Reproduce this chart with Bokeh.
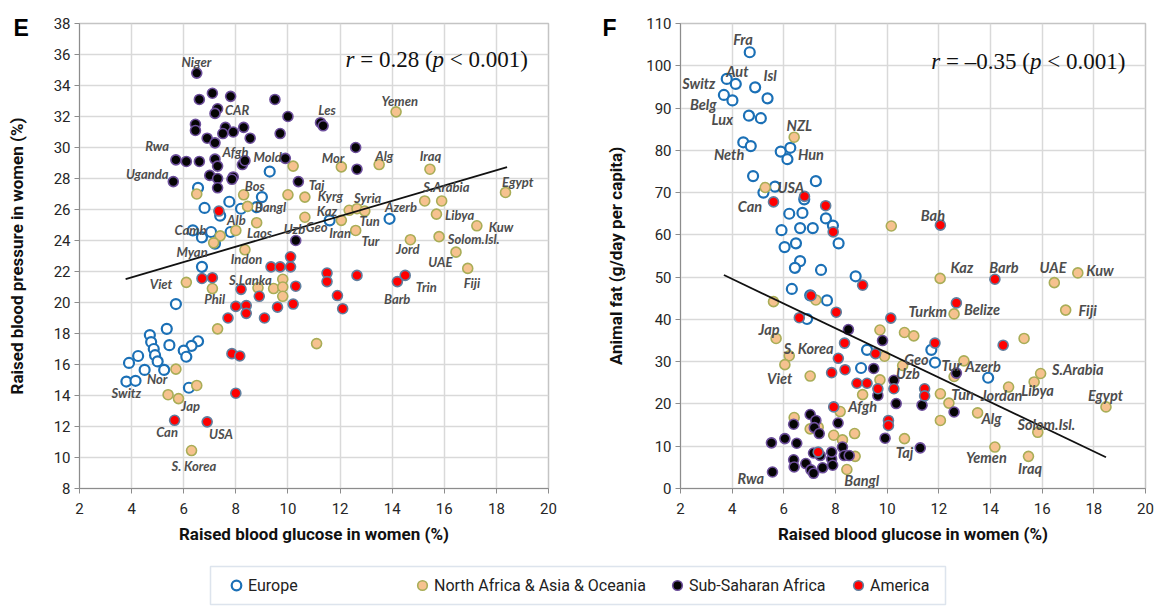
from bokeh.plotting import figure
from bokeh.layouts import column, row
from bokeh.models import (Range1d, Label, Legend, LegendItem, BoxAnnotation,
                          FixedTicker, Title)
from bokeh.core.properties import value
from bokeh.embed import file_html
from bokeh.resources import INLINE

# ---------------- data ----------------
x_ticks = [2, 4, 6, 8, 10, 12, 14, 16, 18, 20]
e_y_ticks = [8, 10, 12, 14, 16, 18, 20, 22, 24, 26, 28, 30, 32, 34, 36, 38]
f_y_ticks = [0, 10, 20, 30, 40, 50, 60, 70, 80, 90, 100, 110]

groups = ["Europe", "North Africa & Asia & Oceania", "Sub-Saharan Africa", "America"]

# Panel E: glucose vs blood pressure
e_eu_x = [9.3, 6.55, 6.8, 7.75, 8.2, 9.0, 8.8, 7.4, 6.35, 6.7, 7.05, 7.8, 7.2, 6.7, 5.7, 4.7, 5.35, 4.75,
          4.85, 4.9, 5.45, 6.55, 6.3, 6.0, 6.1, 5.0, 5.25, 4.25, 3.9, 4.5, 3.8, 4.15, 6.2, 11.6, 13.9]
e_eu_y = [28.45, 27.4, 26.1, 26.5, 26.05, 26.8, 26.15, 25.6, 24.65, 24.2, 24.55, 24.55, 23.8, 22.3, 19.9,
          17.9, 18.3, 17.45, 17.0, 16.6, 17.25, 17.5, 17.2, 16.9, 16.5, 16.2, 15.65, 16.55, 16.1, 15.65,
          14.9, 14.95, 14.5, 25.3, 25.4]
e_na_x = [6.5, 8.3, 8.45, 10.0, 10.2, 8.8, 8.0, 7.4, 7.15, 8.35, 12.05, 10.65, 10.65, 12.05, 12.6, 12.35,
          12.65, 12.95, 14.15, 13.5, 15.45, 18.35, 15.25, 15.9, 15.7, 17.25, 15.8, 14.7, 16.45, 16.9, 11.1,
          6.1, 7.1, 7.3, 5.7, 5.4, 5.8, 6.5, 6.3, 8.85, 9.45, 9.8, 9.8, 9.8]
e_na_y = [27.0, 26.95, 26.2, 26.95, 28.8, 25.15, 24.65, 24.3, 23.85, 23.4, 28.75, 26.8, 25.5, 25.3, 24.65,
          25.95, 26.05, 25.9, 32.3, 28.9, 28.6, 27.1, 26.55, 26.55, 25.7, 24.95, 24.25, 24.05, 23.25, 22.2,
          17.35, 21.3, 20.9, 18.3, 15.7, 14.05, 13.8, 14.65, 10.45, 20.95, 20.9, 21.5, 21.0, 20.4]
e_ss_x = [6.5, 7.1, 6.6, 7.8, 9.5, 7.3, 7.2, 10.0, 6.45, 6.45, 11.25, 11.35, 7.6, 8.3, 7.5, 7.9, 6.9, 7.2,
          8.55, 9.7, 12.6, 12.65, 5.7, 6.1, 6.6, 7.2, 7.3, 8.25, 8.35, 9.9, 7.0, 7.3, 7.9, 7.85, 5.6, 7.3,
          10.4, 10.3]
e_ss_y = [34.8, 33.5, 33.1, 33.3, 33.1, 32.5, 32.2, 32.0, 31.5, 31.1, 31.6, 31.4, 31.3, 31.3, 30.9, 31.0,
          30.6, 30.3, 30.6, 30.9, 30.0, 28.6, 29.2, 29.1, 29.1, 29.25, 28.8, 28.9, 29.15, 29.3, 28.2, 28.0,
          28.1, 27.95, 27.8, 27.4, 27.8, 24.0]
e_am_x = [7.35, 10.1, 9.35, 9.7, 10.1, 11.5, 11.5, 12.65, 6.7, 7.1, 8.2, 8.9, 10.3, 8.0, 8.4, 8.4, 7.7, 9.1,
          9.6, 10.2, 11.9, 12.1, 7.85, 8.15, 8.0, 5.65, 6.9, 14.2, 14.5]
e_am_y = [25.9, 22.95, 22.3, 22.3, 22.3, 21.9, 21.35, 21.75, 21.55, 21.6, 20.85, 20.4, 21.05, 19.75, 19.8,
          19.3, 19.0, 19.0, 19.7, 19.9, 20.45, 19.6, 16.7, 16.55, 14.15, 12.4, 12.3, 21.35, 21.75]
e_fit_x = [3.77, 18.41]
e_fit_y = [21.51, 28.74]
e_lab = ["Niger", "CAR", "Rwa", "Uganda", "Afgh", "Mold", "Bos", "Bangl", "Alb", "Camb", "Laos", "Uzb",
         "Geo", "Kaz", "Kyrg", "Taj", "Mor", "Les", "Iran", "Myan", "Indon", "S.Lanka", "Phil", "Viet",
         "Nor", "Switz", "Jap", "Can", "USA", "S. Korea", "Yemen", "Alg", "Iraq", "Syria", "S.Arabia",
         "Egypt", "Azerb", "Tun", "Libya", "Kuw", "Tur", "Solom.Isl.", "Jord", "UAE", "Fiji", "Trin", "Barb"]
e_lab_x = [6.49, 8.05, 4.98, 4.6, 7.99, 9.22, 8.73, 9.33, 8.02, 6.26, 8.91, 10.25, 11.1, 11.5, 11.63, 11.1,
           11.73, 11.5, 12.0, 6.32, 8.41, 8.56, 7.19, 5.13, 4.98, 3.8, 6.26, 5.36, 7.43, 6.39, 14.29, 13.7,
           15.47, 13.06, 16.08, 18.82, 14.34, 13.14, 16.59, 18.18, 13.17, 17.13, 14.6, 15.85, 17.06, 15.31,
           14.19]
e_lab_y = [35.5, 32.4, 30.1, 28.3, 29.73, 29.37, 27.5, 26.13, 25.33, 24.7, 24.48, 24.76, 24.9, 25.88, 26.88,
           27.57, 29.35, 32.45, 24.48, 23.27, 22.79, 21.43, 20.24, 21.2, 15.07, 14.16, 13.31, 11.62, 11.51,
           9.46, 33.02, 29.42, 29.42, 26.73, 27.45, 27.79, 26.18, 25.29, 25.67, 24.86, 23.97, 24.12, 23.42,
           22.6, 21.26, 20.98, 20.24]

# Panel F: glucose vs animal fat
f_eu_x = [4.68, 3.79, 4.14, 4.89, 5.37, 3.68, 4.01, 4.65, 5.11, 4.43, 4.72, 5.88, 6.25, 6.14, 4.81, 7.24,
          5.21, 5.66, 6.79, 6.21, 6.72, 7.63, 7.9, 5.91, 6.63, 7.12, 6.47, 6.03, 8.12, 6.63, 6.43, 7.44,
          8.78, 6.31, 7.02, 7.67, 6.9, 9.22, 11.71, 11.85, 8.99, 13.91]
f_eu_y = [103.2, 96.9, 95.7, 94.9, 92.3, 93.1, 91.8, 88.2, 87.6, 81.9, 81.0, 79.7, 80.6, 77.9, 73.9, 72.7,
          70.0, 71.4, 68.4, 65.0, 65.2, 63.9, 62.2, 61.1, 61.6, 61.6, 58.0, 57.1, 58.0, 53.8, 52.2, 51.7,
          50.2, 47.2, 45.7, 44.5, 40.1, 32.8, 32.8, 29.8, 28.5, 26.2]
f_na_x = [6.4, 5.28, 10.16, 12.05, 5.6, 7.24, 12.59, 5.7, 6.21, 6.04, 7.02, 9.72, 10.67, 11.03, 9.9, 15.3,
          12.97, 12.59, 10.6, 9.72, 9.05, 8.18, 6.4, 7.02, 7.33, 7.93, 8.27, 8.74, 8.76, 8.44, 12.06, 12.39,
          12.06, 13.5, 10.67, 14.7, 15.69, 15.94, 15.83, 14.17, 15.47, 18.47, 16.47, 17.38, 16.91]
f_na_y = [83.1, 71.2, 62.1, 49.7, 44.2, 44.6, 41.3, 35.5, 31.4, 29.3, 26.6, 37.5, 36.9, 36.1, 31.3, 35.5,
          30.2, 26.5, 29.1, 25.7, 22.2, 18.2, 16.8, 14.1, 14.5, 12.6, 11.5, 13.0, 7.6, 4.5, 22.4, 20.2, 16.1,
          17.9, 11.8, 24.0, 25.2, 27.2, 13.3, 9.8, 7.6, 19.3, 48.7, 51.0, 42.2]
f_ss_x = [5.52, 6.04, 6.5, 6.38, 7.02, 7.24, 7.18, 7.37, 8.1, 5.56, 6.38, 6.4, 6.85, 7.05, 7.15, 7.5, 7.85,
          7.85, 7.89, 7.15, 7.41, 8.27, 8.34, 8.53, 8.5, 9.48, 9.82, 10.26, 9.64, 10.35, 11.35, 12.68, 12.59,
          9.92, 11.28]
f_ss_y = [10.8, 11.8, 10.7, 15.2, 17.5, 16.1, 14.4, 13.0, 15.5, 3.9, 6.8, 5.1, 5.9, 4.4, 3.6, 4.9, 7.0, 8.6,
          5.5, 8.4, 7.8, 9.8, 7.8, 7.8, 37.6, 28.4, 35.0, 25.6, 22.0, 20.1, 19.7, 27.3, 18.1, 11.9, 9.6]
f_am_x = [5.6, 6.8, 7.62, 7.91, 12.06, 9.05, 7.05, 6.6, 8.03, 10.14, 12.68, 11.85, 8.35, 9.55, 8.11, 8.37,
          7.85, 8.83, 9.22, 9.64, 10.26, 11.45, 11.45, 10.05, 10.05, 7.93, 7.33, 14.17, 14.49]
f_am_y = [67.8, 69.1, 66.9, 60.7, 62.3, 48.1, 45.6, 40.4, 41.7, 40.3, 43.9, 34.4, 34.4, 31.9, 30.8, 28.1,
          27.4, 24.9, 24.9, 23.6, 23.6, 23.6, 21.9, 16.1, 14.9, 19.3, 8.6, 49.5, 33.9]
f_fit_x = [3.68, 18.47]
f_fit_y = [50.5, 7.4]
f_lab = ["Fra", "Aut", "Isl", "Switz", "Belg", "Lux", "NZL", "Neth", "Hun", "USA", "Can", "Bah", "Kaz",
         "Barb", "UAE", "Kuw", "Belize", "Turkm", "Fiji", "S.Arabia", "Libya", "Egypt", "Azerb", "Tur",
         "Geo", "Uzb", "Tun", "Jordan", "Alg", "Solom.Isl.", "Yemen", "Iraq", "Taj", "Bangl", "Afgh", "Rwa",
         "Viet", "S. Korea", "Jap"]
f_lab_x = [4.42, 4.2, 5.47, 2.71, 2.88, 3.62, 6.6, 3.88, 7.05, 6.27, 4.69, 11.77, 12.89, 14.52, 16.42, 18.24,
           13.67, 11.57, 17.76, 17.38, 15.82, 18.45, 13.71, 12.49, 11.13, 10.8, 12.92, 14.43, 14.04, 16.16,
           13.84, 15.53, 10.67, 9.02, 9.05, 4.72, 5.84, 6.96, 5.43]
f_lab_y = [106.2, 98.7, 97.6, 95.7, 90.8, 87.4, 85.8, 79.1, 79.1, 71.2, 66.7, 64.5, 52.3, 52.3, 52.3, 51.5,
           42.3, 41.8, 42.0, 28.1, 23.2, 21.9, 28.8, 29.2, 30.6, 27.2, 22.3, 21.9, 16.5, 15.2, 7.4, 4.7, 8.6,
           1.9, 19.3, 2.3, 26.1, 33.1, 37.7]

# ---------------- styling ----------------
TICK_FONT = "Roboto"
LAB_FONT = "Lato"
STY = [
    dict(fill_color="white", line_color="#1b70b6", line_width=2.2),
    dict(fill_color="#f6c28f", line_color="#a9ad57", line_width=1.6),
    dict(fill_color="#050505", line_color="#6d4f9c", line_width=1.6),
    dict(fill_color="#ff0000", line_color="#5f7f9f", line_width=1.6),
]


def make_panel(width, bl, br, bt, bb, yr, yticks, ylabel, ystand, letter, loff):
    p = figure(width=width, height=552, x_range=Range1d(2, 20), y_range=Range1d(*yr),
               output_backend="svg", toolbar_location=None,
               min_border_left=bl, min_border_right=br, min_border_top=bt, min_border_bottom=bb)
    p.title = Title(text=letter, align="left", offset=loff, standoff=-35, text_line_height=2.2,
                    text_font="Liberation Sans", text_font_style="bold", text_font_size="23px",
                    text_color="#000000")
    p.xaxis.ticker = FixedTicker(ticks=x_ticks)
    p.yaxis.ticker = FixedTicker(ticks=yticks)
    p.axis.minor_tick_line_color = None
    p.axis.major_tick_in = 0
    p.axis.major_tick_out = 5
    p.axis.axis_line_color = "#8c8c8c"
    p.axis.major_tick_line_color = "#8c8c8c"
    p.axis.major_label_text_font = TICK_FONT
    p.axis.major_label_text_font_size = "15px"
    p.axis.major_label_text_color = "#262626"
    p.yaxis.major_label_standoff = 4
    p.xaxis.major_label_standoff = 9
    p.axis.axis_label_text_font = TICK_FONT
    p.axis.axis_label_text_font_style = "bold"
    p.axis.axis_label_text_font_size = "17px"
    p.axis.axis_label_text_color = "#111111"
    p.xaxis.axis_label = "Raised blood glucose in women (%)"
    p.xaxis.axis_label_standoff = 7
    p.yaxis.axis_label = ylabel
    p.yaxis.axis_label_standoff = ystand
    p.grid.grid_line_color = "#d9d9d9"
    p.grid.grid_line_width = 1.5
    p.outline_line_color = "#c4c4c4"
    p.outline_line_width = 1.5
    return p


def add_points(p, pairs, fit_x, fit_y, lx, ly, labs, lab_size):
    for (x, y), st in zip(pairs, STY):
        p.scatter(x, y, size=10, **st)
    p.line(fit_x, fit_y, line_color="#111111", line_width=1.8)
    p.text(lx, ly, text=labs, text_font=value(LAB_FONT), text_font_style="bold italic",
           text_font_size=lab_size, text_color="#4d4d4d", text_align="center",
           text_baseline="middle")


def add_r(p, x, y, parts, offsets):
    for t, off, it in zip(parts, offsets, [True, False, True, False]):
        p.add_layout(Label(x=x, y=y, x_offset=off, text=t, text_font="Liberation Serif",
                           text_font_size="23px", text_color="#111111",
                           text_font_style="italic" if it else "normal",
                           text_baseline="alphabetic"))


pE = make_panel(580, 79, 32, 20, 60, (8, 38), e_y_ticks, "Raised blood pressure in women (%)", 24,
                "E", -66)
add_points(pE, [(e_eu_x, e_eu_y), (e_na_x, e_na_y), (e_ss_x, e_ss_y), (e_am_x, e_am_y)],
           e_fit_x, e_fit_y, e_lab_x, e_lab_y, e_lab, "13px")
add_r(pE, 12.21, 35.65, ["r", "= 0.28 (", "p", "< 0.001)"], [0, 14.75, 87, 104.25])

pF = make_panel(574, 100, 9, 23, 64, (0, 110), f_y_ticks, "Animal fat (g/day per capita)", 17,
                "F", -78)
add_points(pF, [(f_eu_x, f_eu_y), (f_na_x, f_na_y), (f_ss_x, f_ss_y), (f_am_x, f_am_y)],
           f_fit_x, f_fit_y, f_lab_x, f_lab_y, f_lab, "14.5px")
add_r(pF, 11.71, 101.0, ["r", "= \u20130.35 (", "p", "< 0.001)"], [0, 14.75, 98.6, 115.9])

# ---------------- legend strip ----------------
leg = figure(width=1154, height=56, x_range=Range1d(0, 1154), y_range=Range1d(0, 56),
             output_backend="svg", toolbar_location=None, min_border=0,
             x_axis_type=None, y_axis_type=None)
leg.grid.visible = False
leg.outline_line_color = None
leg.add_layout(BoxAnnotation(left=210, right=945, bottom=4, top=42, fill_alpha=0,
                             line_color="#8fa6c4", line_width=1.5))
leg_x = [224, 410, 665, 846]
for name, st, lxp in zip(groups, STY, leg_x):
    r = leg.scatter(x=[-100], y=[-100], size=10, **st)
    lg = Legend(items=[LegendItem(label=name, renderers=[r])], location=(lxp, 11),
                orientation="horizontal", border_line_color=None, background_fill_alpha=0,
                padding=0, margin=0, glyph_width=24, glyph_height=24, label_standoff=0,
                label_height=24, label_text_font=TICK_FONT, label_text_font_size="16px",
                label_text_color="#222222")
    leg.add_layout(lg)

layout = column(row(pE, pF), leg)
open("out.html", "w").write(file_html(layout, INLINE))
